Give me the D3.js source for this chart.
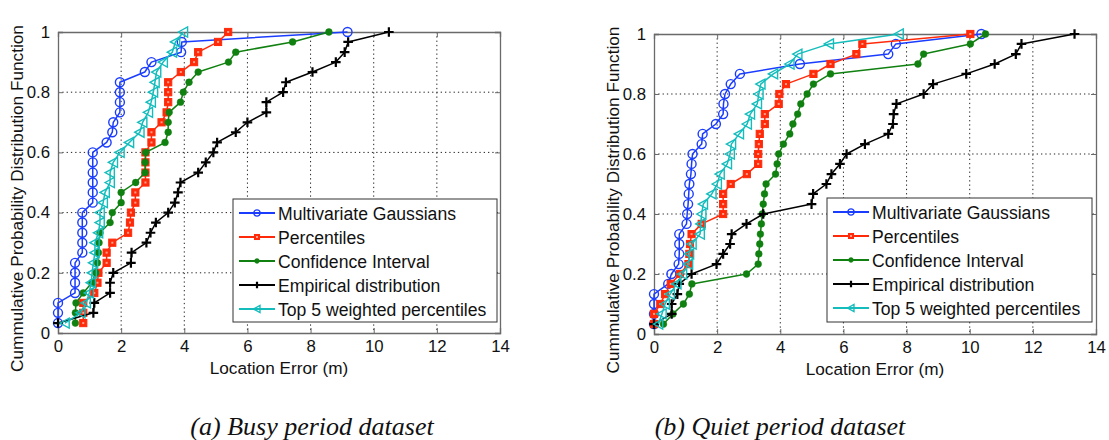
<!DOCTYPE html>
<html><head><meta charset="utf-8">
<script src="https://cdn.jsdelivr.net/npm/d3@7"></script>
<style>body{margin:0;background:#fff}svg{display:block}</style>
</head><body><svg id="c" width="1109" height="440"></svg>
<script>
// ---- data ----
const xTicks = [0, 2, 4, 6, 8, 10, 12, 14];
const yTicks = [0, 0.2, 0.4, 0.6, 0.8, 1];
const seriesNames = ["Multivariate Gaussians", "Percentiles", "Confidence Interval", "Empirical distribution", "Top 5 weighted percentiles"];
const cdfLevels = [0.033,0.067,0.1,0.133,0.167,0.2,0.233,0.267,0.3,0.333,0.367,0.4,0.433,0.467,0.5,0.533,0.567,0.6,0.633,0.667,0.7,0.733,0.767,0.8,0.833,0.867,0.9,0.933,0.967,1];

const busyGaussian    = [0,0,0,0.54,0.54,0.54,0.54,0.77,0.77,0.77,0.77,0.77,1.1,1.1,1.1,1.1,1.1,1.1,1.54,1.72,1.75,1.96,1.96,1.96,1.96,2.75,2.96,3.9,3.92,9.17];
const busyPercentiles = [0.8,0.8,0.8,1.15,1.25,1.28,1.54,1.54,1.72,2.22,2.28,2.31,2.45,2.45,2.77,2.77,2.77,2.77,2.96,2.96,3.28,3.44,3.49,3.49,3.49,3.89,4.31,4.44,5.07,5.39];
const busyConfidence  = [0.55,0.55,0.57,0.8,1.07,1.2,1.25,1.28,1.3,1.33,1.65,1.72,2.0,2.0,2.46,2.76,2.76,2.78,3.39,3.49,3.49,3.52,3.88,3.97,4.15,4.44,5.4,5.63,7.43,8.58];
const busyEmpirical   = [0,1.12,1.15,1.65,1.65,1.75,2.31,2.33,2.8,2.93,3.1,3.49,3.7,3.8,3.88,4.44,4.68,4.92,5.04,5.63,6.0,6.6,6.6,7.13,7.22,8.06,8.8,9.08,9.19,10.48];
const busyTop5        = [0.22,0.72,0.89,0.99,1.05,1.08,1.12,1.17,1.17,1.28,1.33,1.33,1.43,1.49,1.65,1.65,1.75,1.96,2.26,2.59,2.68,2.86,2.95,3.02,3.07,3.12,3.33,3.62,3.72,3.97];

const quietGaussian    = [0,0,0,0,0.45,0.55,0.78,0.8,0.8,0.8,1.03,1.05,1.08,1.1,1.12,1.17,1.19,1.22,1.51,1.54,1.96,2.19,2.2,2.25,2.43,2.72,4.62,7.42,7.66,10.37];
const quietPercentiles = [0,0,0.2,0.35,0.53,0.82,1.09,1.12,1.14,1.19,1.51,2.19,2.19,2.19,2.43,2.94,3.3,3.3,3.32,3.35,3.51,3.51,3.95,3.97,4.18,5.05,5.59,6.41,6.6,10.02];
const quietConfidence  = [0.3,0.6,0.93,1.12,1.2,2.93,3.3,3.32,3.35,3.37,3.4,3.43,3.46,3.5,3.55,3.85,3.9,3.95,4.1,4.3,4.4,4.55,4.65,4.85,5.05,5.59,8.36,8.54,10.02,10.5];
const quietEmpirical   = [0,0.56,0.56,0.74,0.8,1.19,1.98,2.19,2.41,2.46,2.93,3.46,4.99,5.04,5.46,5.62,5.89,6.1,6.68,7.42,7.57,7.59,7.68,8.54,8.84,9.89,10.79,11.46,11.64,13.32];
const quietTop5        = [0.14,0.25,0.35,0.51,0.72,0.9,1.09,1.12,1.2,1.46,1.48,1.51,1.56,1.83,2.0,2.09,2.32,2.41,2.45,2.7,2.95,3.05,3.27,3.32,3.38,3.78,4.3,4.55,5.55,7.76];

const captions = ["(a) Busy period dataset", "(b) Quiet period dataset"];
const xLabel = "Location Error (m)";
const yLabel = "Cummulative Probability Distribution Function";

// ---- styles / layout ----
const colors = ["#1a3cff", "#ff2a0a", "#108010", "#000000", "#14bcbc"];
const markers = ["circle", "square", "dot", "plus", "tri"];
const panels = [
  {series: [busyGaussian, busyPercentiles, busyConfidence, busyEmpirical, busyTop5],
   left: 58, right: 500, top: 32, bottom: 333, ylabX: 18, capX: 312,
   legend: {x: 233, y: 199, w: 264, h: 123}},
  {series: [quietGaussian, quietPercentiles, quietConfidence, quietEmpirical, quietTop5],
   left: 654, right: 1096, top: 34, bottom: 334, ylabX: 614, capX: 780,
   legend: {x: 827, y: 198, w: 265, h: 124}}
];

const svg = d3.select("#c");
const FONT = "'Liberation Sans', Arial, sans-serif";
const FS = 17.6;

function drawMarker(g, type, color, s) {
  if (type === "circle") {
    g.append("circle").attr("r", 4.5 * s).attr("fill", "none").attr("stroke", color).attr("stroke-width", 1.4);
  } else if (type === "square") {
    const h = 3.6 * s;
    g.append("rect").attr("x", -h).attr("y", -h).attr("width", 2 * h).attr("height", 2 * h)
      .attr("fill", color).attr("stroke", color).attr("stroke-width", 1);
    g.append("rect").attr("x", -1).attr("y", -1).attr("width", 2).attr("height", 2).attr("fill", "#ffa08c");
  } else if (type === "dot") {
    g.append("circle").attr("r", 3.4 * s).attr("fill", color).attr("stroke", color).attr("stroke-width", 0.5);
  } else if (type === "plus") {
    const h = 4.8 * s;
    g.append("path").attr("d", `M${-h},0H${h}M0,${-h}V${h}`).attr("stroke", color).attr("stroke-width", 2.2);
  } else if (type === "tri") {
    const h = 5 * s;
    g.append("path").attr("d", `M${-h},0L${h * 0.85},${-h}L${h * 0.85},${h}Z`)
      .attr("fill", "none").attr("stroke", color).attr("stroke-width", 1.4);
  }
}

panels.forEach((p, pi) => {
  const x = d3.scaleLinear().domain([0, 14]).range([p.left, p.right]);
  const y = d3.scaleLinear().domain([0, 1]).range([p.bottom, p.top]);
  const g = svg.append("g");

  // grid
  g.append("g").selectAll("line").data(xTicks.slice(1, -1)).join("line")
    .attr("x1", d => x(d)).attr("x2", d => x(d)).attr("y1", p.top).attr("y2", p.bottom)
    .attr("stroke", "#222").attr("stroke-width", 1).attr("stroke-dasharray", "1.3,3");
  g.append("g").selectAll("line").data(yTicks.slice(1, -1)).join("line")
    .attr("x1", p.left).attr("x2", p.right).attr("y1", d => y(d)).attr("y2", d => y(d))
    .attr("stroke", "#222").attr("stroke-width", 1).attr("stroke-dasharray", "1.3,3");

  // axes
  const axB = g.append("g").attr("transform", `translate(0,${p.bottom})`)
    .call(d3.axisBottom(x).tickValues(xTicks).tickSize(-5).tickPadding(7).tickFormat(d3.format("~g")));
  const axT = g.append("g").attr("transform", `translate(0,${p.top})`)
    .call(d3.axisTop(x).tickValues(xTicks).tickSize(-5).tickFormat(""));
  const axL = g.append("g").attr("transform", `translate(${p.left},0)`)
    .call(d3.axisLeft(y).tickValues(yTicks).tickSize(-5).tickPadding(8).tickFormat(d3.format("~g")));
  const axR = g.append("g").attr("transform", `translate(${p.right},0)`)
    .call(d3.axisRight(y).tickValues(yTicks).tickSize(-5).tickFormat(""));
  [axB, axT, axL, axR].forEach(a => {
    a.selectAll(".domain").attr("stroke", "#6a6a6a").attr("stroke-width", 1.3);
    a.selectAll(".tick line").attr("stroke", "#6a6a6a").attr("stroke-width", 1);
    a.selectAll("text").attr("font-family", FONT).attr("font-size", 16.8).attr("fill", "#111");
  });

  // series
  p.series.forEach((vals, si) => {
    const pts = vals.map((v, i) => [v, cdfLevels[i]]);
    g.append("path").datum(pts)
      .attr("d", d3.line().x(d => x(d[0])).y(d => y(d[1])))
      .attr("fill", "none").attr("stroke", colors[si]).attr("stroke-width", 1.5).attr("stroke-linejoin", "round");
    const mg = g.append("g");
    pts.forEach(d => {
      const m = mg.append("g").attr("transform", `translate(${x(d[0])},${y(d[1])})`);
      drawMarker(m, markers[si], colors[si], 1);
    });
  });

  // labels
  svg.append("text").attr("x", (p.left + p.right) / 2).attr("y", p.bottom + 41)
    .attr("text-anchor", "middle").attr("font-family", FONT).attr("font-size", 17.2).attr("fill", "#111")
    .text(xLabel);
  svg.append("text").attr("transform", `translate(${p.ylabX},${(p.top + p.bottom) / 2 + 16}) rotate(-90)`)
    .attr("text-anchor", "middle").attr("dominant-baseline", "middle")
    .attr("font-family", FONT).attr("font-size", 17.2).attr("fill", "#111").text(yLabel);
  svg.append("text").attr("x", p.capX).attr("y", 435).attr("text-anchor", "middle")
    .attr("font-family", "'Liberation Serif', 'Times New Roman', serif").attr("font-style", "italic")
    .attr("font-size", 26).attr("fill", "#111").text(captions[pi]);

  // legend
  const L = p.legend;
  const lg = svg.append("g");
  lg.append("rect").attr("x", L.x).attr("y", L.y).attr("width", L.w).attr("height", L.h)
    .attr("fill", "#fff").attr("stroke", "#333").attr("stroke-width", 1);
  seriesNames.forEach((name, si) => {
    const yy = L.y + 14 + si * 24;
    lg.append("line").attr("x1", L.x + 6).attr("x2", L.x + 42).attr("y1", yy).attr("y2", yy)
      .attr("stroke", colors[si]).attr("stroke-width", 2.2);
    const m = lg.append("g").attr("transform", `translate(${L.x + 24},${yy})`);
    drawMarker(m, markers[si], colors[si], 0.7);
    lg.append("text").attr("x", L.x + 45).attr("y", yy + 1).attr("dominant-baseline", "central")
      .attr("font-family", FONT).attr("font-size", FS).attr("fill", "#111").text(name);
  });
});
</script></body></html>
